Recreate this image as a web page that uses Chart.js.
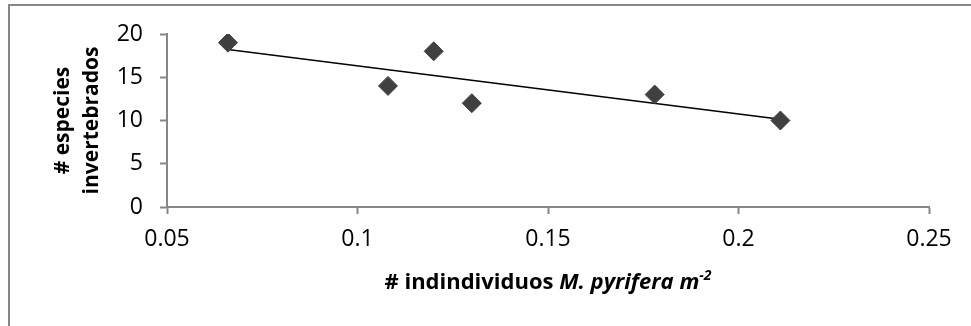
<!DOCTYPE html>
<html>
<head>
<meta charset="utf-8">
<script src="https://cdn.jsdelivr.net/npm/chart.js@4"></script>
<style>
  html, body { margin: 0; padding: 0; background: #fff; overflow: hidden; }
</style>
</head>
<body>
<canvas id="grafico" width="971" height="326"></canvas>
<script>
/* datos: densidad de M. pyrifera vs especies de invertebrados */
const densidad = [0.066, 0.108, 0.12, 0.13, 0.178, 0.211];
const especies = [19, 14, 18, 12, 13, 10];
const xTicks = [0.05, 0.1, 0.15, 0.2, 0.25];
const yTicks = [0, 5, 10, 15, 20];

const fuente = "'Open Sans', sans-serif";
const gris = '#878787';

// recta de tendencia (minimos cuadrados)
const n = densidad.length;
const mx = densidad.reduce((a, b) => a + b, 0) / n;
const my = especies.reduce((a, b) => a + b, 0) / n;
let sxy = 0, sxx = 0;
for (let i = 0; i < n; i++) {
    sxy += (densidad[i] - mx) * (especies[i] - my);
    sxx += (densidad[i] - mx) * (densidad[i] - mx);
}
const pendiente = sxy / sxx;
const xMin = Math.min(...densidad), xMax = Math.max(...densidad);
const tendencia = [
    { x: xMin, y: my + pendiente * (xMin - mx) },
    { x: xMax, y: my + pendiente * (xMax - mx) }
];

// marco del grafico (solo se ve arriba y a la izquierda)
const marco = {
    id: 'marco',
    beforeDraw(chart) {
        const ctx = chart.ctx;
        ctx.save();
        ctx.strokeStyle = gris;
        ctx.lineWidth = 2;
        ctx.beginPath();
        ctx.moveTo(9, chart.height);
        ctx.lineTo(9, 5);
        ctx.lineTo(chart.width, 5);
        ctx.stroke();
        ctx.restore();
    }
};

// titulo del eje x con cursiva y superindice
const tituloX = {
    id: 'tituloX',
    afterDraw(chart) {
        const ctx = chart.ctx;
        const area = chart.chartArea;
        const partes = [
            { t: '# indindividuos ', f: "bold 22px " + fuente, dy: 0 },
            { t: 'M. pyrifera m', f: "italic bold 22px " + fuente, dy: 0 },
            { t: '-2', f: "italic bold 14px " + fuente, dy: -7 }
        ];
        ctx.save();
        let total = 0;
        partes.forEach(p => { ctx.font = p.f; total += ctx.measureText(p.t).width; });
        let x = (area.left + area.right) / 2 - total / 2;
        const y = 283;
        ctx.fillStyle = '#000';
        ctx.textBaseline = 'middle';
        partes.forEach(p => {
            ctx.font = p.f;
            ctx.fillText(p.t, x, y + p.dy);
            x += ctx.measureText(p.t).width;
        });
        ctx.restore();
    }
};

const config = {
    type: 'scatter',
    data: {
        datasets: [{
            label: 'especies',
            data: densidad.map((d, i) => ({ x: d, y: especies[i] })),
            pointStyle: 'rectRot',
            pointRadius: 9.5,
            pointHoverRadius: 9.5,
            backgroundColor: '#404040',
            borderColor: '#404040',
            borderWidth: 1
        }, {
            label: 'tendencia',
            type: 'line',
            data: tendencia,
            borderColor: '#000',
            borderWidth: 1.5,
            pointRadius: 0,
            fill: false
        }]
    },
    options: {
        responsive: false,
        animation: false,
        layout: { padding: { left: 0, right: 42, top: 34, bottom: 0 } },
        plugins: {
            legend: { display: false },
            tooltip: { enabled: false }
        },
        scales: {
            x: {
                type: 'linear',
                min: 0.05,
                max: 0.25,
                afterBuildTicks: (s) => { s.ticks = xTicks.map(v => ({ value: v })); },
                afterFit: (s) => { s.height = 119; },
                grid: { display: true, drawOnChartArea: false, drawTicks: true, tickLength: 7, tickWidth: 2, color: gris },
                border: { color: gris, width: 2 },
                ticks: {
                    padding: 12,
                    color: '#000',
                    font: { size: 23, family: fuente },
                    callback: (v) => String(v)
                }
            },
            y: {
                min: 0,
                max: 20,
                afterBuildTicks: (s) => { s.ticks = yTicks.map(v => ({ value: v })); },
                afterFit: (s) => { s.width = 167; },
                grid: { display: true, drawOnChartArea: false, drawTicks: true, tickLength: 7, tickWidth: 2, color: gris },
                border: { color: gris, width: 2 },
                title: {
                    display: true,
                    text: ['# especies', 'invertebrados'],
                    color: '#000',
                    font: { size: 21, weight: 'bold', family: fuente, lineHeight: 1.35 },
                    padding: { top: 49, bottom: 0 }
                },
                ticks: {
                    padding: 17,
                    color: '#000',
                    font: { size: 23, family: fuente }
                }
            }
        }
    },
    plugins: [marco, tituloX]
};

const grafico = new Chart(document.getElementById('grafico'), config);
</script>
</body>
</html>
